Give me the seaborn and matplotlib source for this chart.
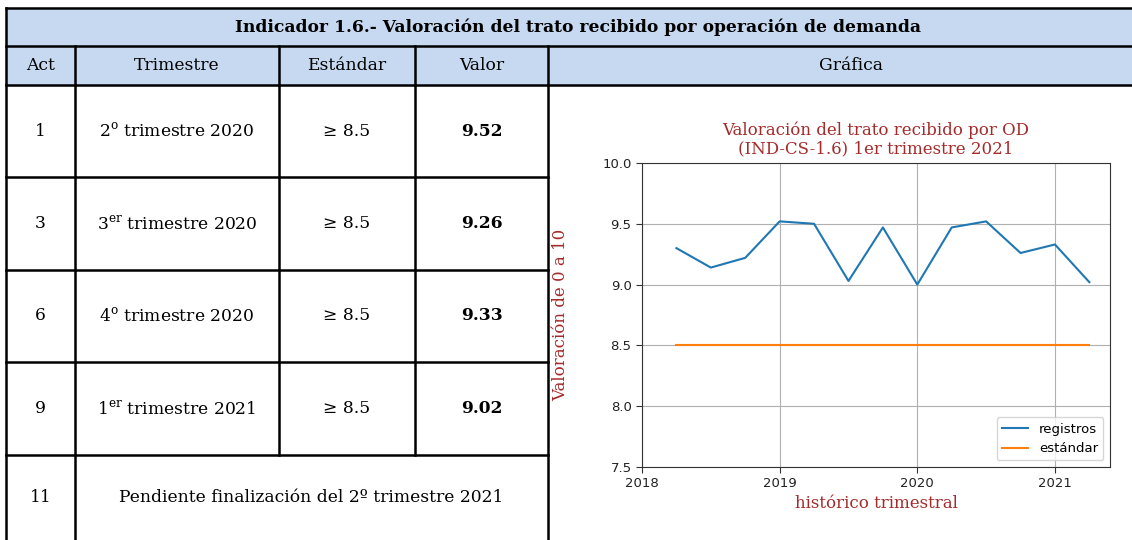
import matplotlib
matplotlib.use("Agg")
import matplotlib.pyplot as plt
import pandas as pd
import seaborn as sns

# datos de la tabla
acts = ["1", "3", "6", "9"]
trimestres = ["2$^{\\mathrm{o}}$ trimestre 2020", "3$^{\\mathrm{er}}$ trimestre 2020",
              "4$^{\\mathrm{o}}$ trimestre 2020", "1$^{\\mathrm{er}}$ trimestre 2021"]
estandares = ["≥ 8.5", "≥ 8.5", "≥ 8.5", "≥ 8.5"]
valores = ["9.52", "9.26", "9.33", "9.02"]
headers = ["Act", "Trimestre", "Estándar", "Valor", "Gráfica"]
titulo = "Indicador 1.6.- Valoración del trato recibido por operación de demanda"
pendiente = "Pendiente finalización del 2º trimestre 2021"

# datos de la grafica (trimestral)
periodos = [2018.25, 2018.5, 2018.75, 2019.0, 2019.25, 2019.5, 2019.75,
            2020.0, 2020.25, 2020.5, 2020.75, 2021.0, 2021.25]
registros = [9.30, 9.14, 9.22, 9.52, 9.50, 9.03, 9.47, 9.00, 9.47, 9.52, 9.26, 9.33, 9.02]
estandar = 8.5

W, H = 1132, 540
plt.rcParams['mathtext.fontset'] = 'custom'
plt.rcParams['mathtext.rm'] = 'DejaVu Serif'
fig = plt.figure(figsize=(W / 100, H / 100), dpi=100)

# tabla en coordenadas de pixel
tb = fig.add_axes([0, 0, 1, 1])
tb.set_xlim(0, W)
tb.set_ylim(H, 0)
tb.axis('off')

serif = ['DejaVu Serif']
fs = 12.3
xl, xr = 6, 1150
cols = [6, 75, 279, 415, 548]
rows = [85, 177, 270, 362, 455, 548]
lw = 1.8

tb.add_patch(plt.Rectangle((xl, 8), xr - xl, 77, color='#c6d9f1', zorder=0))
for y in [8, 46, 85]:
    tb.plot([xl, xr], [y, y], color='black', lw=lw)
for y in rows[1:5]:
    tb.plot([xl, cols[4]], [y, y], color='black', lw=lw)
tb.plot([xl, xl], [8, 548], color='black', lw=lw)
for x in cols[1:]:
    tb.plot([x, x], [46, 85], color='black', lw=lw)
tb.plot([cols[1], cols[1]], [85, 548], color='black', lw=lw)
tb.plot([cols[4], cols[4]], [85, 548], color='black', lw=lw)
for x in cols[2:4]:
    tb.plot([x, x], [85, rows[4]], color='black', lw=lw)

tb.text((xl + xr) / 2, 27, titulo, ha='center', va='center', fontsize=fs,
        fontweight='bold', family=serif)
centers = [(cols[i] + cols[i + 1]) / 2 for i in range(4)] + [(cols[4] + xr) / 2 + 2]
for c, h in zip(centers, headers):
    tb.text(c, 65, h, ha='center', va='center', fontsize=fs, family=serif)

for i in range(4):
    yc = (rows[i] + rows[i + 1]) / 2
    tb.text(centers[0], yc, acts[i], ha='center', va='center', fontsize=fs, family=serif)
    tb.text(centers[1], yc, trimestres[i], ha='center', va='center', fontsize=fs, family=serif)
    tb.text(centers[2], yc, estandares[i], ha='center', va='center', fontsize=fs, family=serif)
    tb.text(centers[3], yc, valores[i], ha='center', va='center', fontsize=fs,
            fontweight='bold', family=serif)
yc = (rows[4] + rows[5]) / 2 - 4
tb.text(centers[0], yc, "11", ha='center', va='center', fontsize=fs, family=serif)
tb.text((cols[1] + cols[4]) / 2, yc, pendiente, ha='center', va='center', fontsize=fs, family=serif)

# grafica
x0, x1, y0, y1 = 642, 1110, 163, 467
ax = fig.add_axes([x0 / W, 1 - y1 / H, (x1 - x0) / W, (y1 - y0) / H])
df = pd.DataFrame({'periodo': periodos, 'registros': registros,
                   'estándar': [estandar] * len(periodos)})
sns.lineplot(data=df, x='periodo', y='registros', ax=ax, color='#1f77b4', lw=1.5, label='registros')
sns.lineplot(data=df, x='periodo', y='estándar', ax=ax, color='#ff7f0e', lw=1.5, label='estándar')
ax.set_xlim(2018, 2021.4)
ax.set_ylim(7.5, 10.0)
ax.set_xticks([2018, 2019, 2020, 2021])
ax.set_xticklabels(['2018', '2019', '2020', '2021'])
ax.set_yticks([7.5, 8.0, 8.5, 9.0, 9.5, 10.0])
ax.grid(True, color='#b0b0b0', lw=0.8)
ax.tick_params(labelsize=9.5, colors='#333333', labelcolor='#222222', length=4)
for s in ax.spines.values():
    s.set_color('#333333')
red = '#a52a2a'
ax.set_title("Valoración del trato recibido por OD\n(IND-CS-1.6) 1er trimestre 2021",
             color=red, family='DejaVu Serif', fontsize=12, pad=7, linespacing=1.1)
ax.set_xlabel("histórico trimestral", color=red, family='DejaVu Serif', fontsize=12, labelpad=3)
ax.set_ylabel("Valoración de 0 a 10", color=red, family='DejaVu Serif', fontsize=12, labelpad=24)
ax.legend(loc='lower right', fontsize=9.5)

fig.savefig('out.png', dpi=100)
